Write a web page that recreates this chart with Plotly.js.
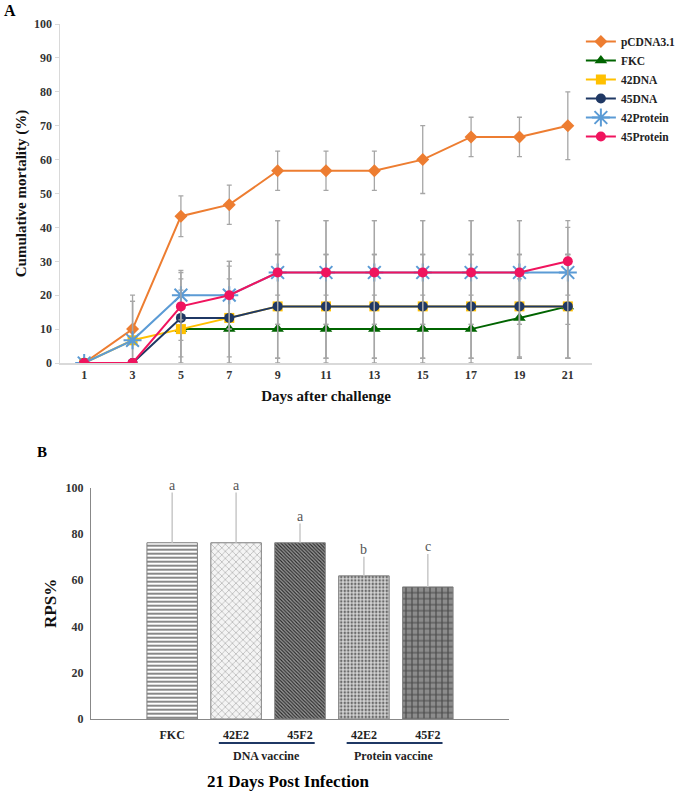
<!DOCTYPE html>
<html>
<head>
<meta charset="utf-8">
<script src="https://cdn.plot.ly/plotly-3.0.1.min.js"></script>
<style>body{margin:0;background:#fff}#plot{width:685px;height:793px}</style>
</head>
<body>
<div id="plot"></div>
<script>
// panel A - cumulative mortality
const days = [1,3,5,7,9,11,13,15,17,19,21]

const pcdna    = [0,10,43.3,46.7,56.7,56.7,56.7,60,66.7,66.7,70]
const pcdnaErr = [0,10,6,5.8,5.8,5.8,5.8,10,5.8,5.8,10]
const fkc      = [null,null,10,10,10,10,10,10,10,13.3,16.7]
const fkcErr   = [0,0,10,10,10,10,10,10,10,11.5,15.3]
const dna42    = [0,6.7,10,13.3,16.7,16.7,16.7,16.7,16.7,16.7,16.7]
const dna42Err = [0,11.5,11.5,15.3,15.3,15.3,15.3,15.3,15.3,15.3,15.3]
const dna45    = [0,0,13.3,13.3,16.7,16.7,16.7,16.7,16.7,16.7,16.7]
const dna45Err = [0,0,11.5,11.5,15.3,15.3,15.3,15.3,15.3,15.3,15.3]
const prot42    = [0,6.7,20,20,26.7,26.7,26.7,26.7,26.7,26.7,26.7]
const prot42Err = [0,11.5,7.3,10,15.3,15.3,15.3,15.3,15.3,15.3,15.3]
const prot45    = [0,0,16.7,20,26.7,26.7,26.7,26.7,26.7,26.7,30]
const prot45Err = [0,0,10,10,15.3,15.3,15.3,15.3,15.3,15.3,10]

// panel B - RPS
const groups = ["FKC","42E2","45F2","42E2","45F2"]
const rps    = [76.2,76.2,76.2,61.9,57.1]
const rpsErr = [21.7,21.7,8.3,8.2,14.2]
const letters = ["a","a","a","b","c"]
const vaccineNames = ["DNA vaccine","Protein vaccine"]
const vaccineSpans = [[1,2],[3,4]]

const SERIF = "Liberation Serif, Times New Roman, serif"

function lineTrace(name, y, err, color, symbol, size, extra){
  const t = {
    x: days, y: y, name: name,
    type: "scatter", mode: "lines+markers",
    line: {color: color, width: 2},
    marker: Object.assign({color: color, symbol: symbol, size: size}, extra || {}),
    error_y: {type: "data", array: err, visible: true, color: "#a6a6a6", thickness: 1.3, width: 2.5},
    xaxis: "x", yaxis: "y"
  }
  return t
}

const traces = [
  lineTrace("pCDNA3.1", pcdna, pcdnaErr, "#ed7d31", "diamond", 10),
  lineTrace("FKC", fkc, fkcErr, "#006400", "triangle-up", 11),
  lineTrace("42DNA", dna42, dna42Err, "#ffc000", "square", 10),
  lineTrace("45DNA", dna45, dna45Err, "#1f3864", "circle", 10),
  lineTrace("42Protein", prot42, prot42Err, "#5b9bd5", "asterisk-open", 15, {line: {color: "#5b9bd5", width: 2}}),
  lineTrace("45Protein", prot45, prot45Err, "#f0145e", "circle", 10)
]

traces.push({
  x: groups.map((g,i)=>i),
  y: rps,
  type: "bar",
  width: 0.79,
  showlegend: false,
  marker: {
    color: "#ffffff",
    line: {color: "#7f7f7f", width: 1},
    pattern: {
      shape: ["-","x","\\",".","+"],
      fgcolor: ["#555555","#9a9a9a","#2a2a2a","#6a6a6a","#4a4a4a"],
      bgcolor: ["#ffffff","#f4f4f4","#9a9a9a","#d4d4d4","#8c8c8c"],
      size: [4,5,2.5,3.5,6],
      solidity: [0.35,0.2,0.45,0.4,0.35],
      fillmode: "replace"
    }
  },
  error_y: {type: "data", symmetric: false, array: rpsErr, arrayminus: [0,0,0,0,0], color: "#c8c8c8", thickness: 1.5, width: 0},
  xaxis: "x2", yaxis: "y2"
})

const annotations = [
  {text: "<b>A</b>", x: 10/685, y: 1-11/793, xref: "paper", yref: "paper", xanchor: "center", yanchor: "middle", showarrow: false, font: {family: SERIF, size: 16, color: "#000"}},
  {text: "<b>B</b>", x: 42/685, y: 1-452/793, xref: "paper", yref: "paper", xanchor: "center", yanchor: "middle", showarrow: false, font: {family: SERIF, size: 15, color: "#000"}},
  {text: "<b>21 Days Post Infection</b>", x: 288/685, y: 1-781/793, xref: "paper", yref: "paper", xanchor: "center", yanchor: "middle", showarrow: false, font: {family: SERIF, size: 17, color: "#000"}}
]

letters.forEach((l,i)=>{
  annotations.push({
    text: l, x: i, y: rps[i]+rpsErr[i], xref: "x2", yref: "y2",
    yanchor: "bottom", yshift: -2, showarrow: false,
    font: {family: SERIF, size: 14, color: "#555"}
  })
})

const shapes = []
vaccineNames.forEach((name,i)=>{
  const s = vaccineSpans[i]
  shapes.push({type: "line", xref: "x2", yref: "paper", x0: s[0]-0.27, x1: s[1]+0.23, y0: 1-743/793, y1: 1-743/793, line: {color: "#1f3864", width: 2}})
  annotations.push({
    text: "<b>"+name+"</b>", x: (s[0]+s[1])/2 - 0.03, y: 1-756/793, xref: "x2", yref: "paper",
    xanchor: "center", yanchor: "middle",
    showarrow: false, font: {family: SERIF, size: 12, color: "#222"}
  })
})

const tickFont = {family: SERIF, size: 12, color: "#333", weight: "bold"}

const layout = {
  width: 685, height: 793,
  margin: {l: 0, r: 0, t: 0, b: 0, pad: 0, autoexpand: false},
  paper_bgcolor: "#fff", plot_bgcolor: "#fff",
  font: {family: SERIF},
  showlegend: true,
  legend: {
    x: 0.848, y: 1-27/793, xanchor: "left", yanchor: "top",
    font: {family: SERIF, size: 11.5, color: "#222", weight: "bold"},
    itemwidth: 30, tracegroupgap: 0, bgcolor: "rgba(0,0,0,0)"
  },
  xaxis: {
    domain: [60/685, 592/685], range: [0,22], anchor: "y",
    tickvals: days, showline: true, linecolor: "#d9d9d9", linewidth: 1.5,
    ticks: "", showgrid: false, zeroline: false,
    tickfont: tickFont,
    title: {text: "<b>Days after challenge</b>", font: {family: SERIF, size: 15, color: "#111"}, standoff: 9}
  },
  yaxis: {
    domain: [1-363/793, 1-24/793], range: [0,100], anchor: "x",
    dtick: 10, showline: true, linecolor: "#d9d9d9", linewidth: 1.5,
    ticks: "outside", ticklen: 4, tickcolor: "#d9d9d9",
    showgrid: false, zeroline: false,
    tickfont: tickFont,
    title: {text: "<b>Cumulative mortality (%)</b>", font: {family: SERIF, size: 15, color: "#111"}, standoff: 4}
  },
  xaxis2: {
    domain: [91/685, 509/685], range: [-1.27,5.27], anchor: "y2",
    tickvals: groups.map((g,i)=>i), ticktext: groups.map(g=>"<b>"+g+"</b>"),
    showline: true, linecolor: "#888", linewidth: 1.2,
    ticks: "", showgrid: false, zeroline: false, ticklabelstandoff: 4,
    tickfont: {family: SERIF, size: 12, color: "#222"}
  },
  yaxis2: {
    domain: [1-719/793, 1-487.7/793], range: [0,100], anchor: "x2",
    dtick: 20, showline: true, linecolor: "#888", linewidth: 1.2,
    ticks: "", showgrid: false, zeroline: false, ticklabelstandoff: 4,
    tickfont: tickFont,
    title: {text: "<b>RPS%</b>", font: {family: SERIF, size: 17, color: "#111"}, standoff: 4}
  },
  annotations: annotations,
  shapes: shapes
}

Plotly.newPlot("plot", traces, layout, {staticPlot: true})
</script>
</body>
</html>
